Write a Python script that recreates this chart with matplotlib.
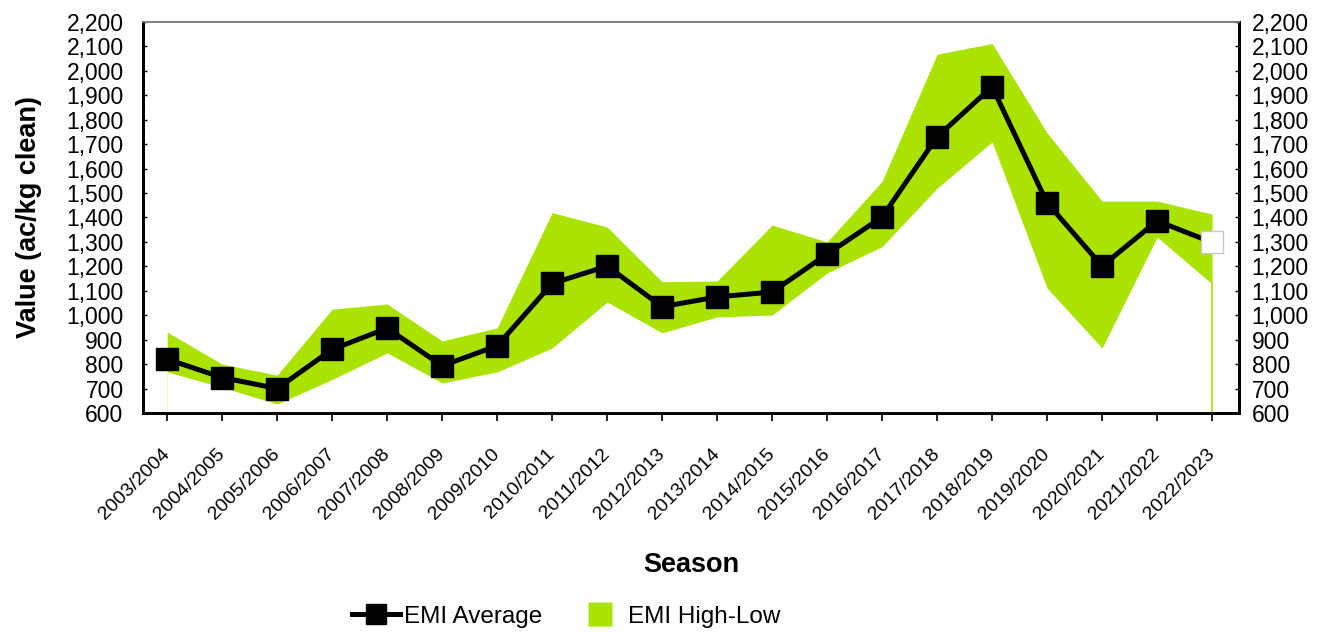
import matplotlib.pyplot as plt
from matplotlib.ticker import FuncFormatter, MultipleLocator
from matplotlib.lines import Line2D

plt.rcParams['font.family'] = ['Liberation Sans', 'DejaVu Sans']

# ---- data ----
seasons = ["2003/2004", "2004/2005", "2005/2006", "2006/2007", "2007/2008",
           "2008/2009", "2009/2010", "2010/2011", "2011/2012", "2012/2013",
           "2013/2014", "2014/2015", "2015/2016", "2016/2017", "2017/2018",
           "2018/2019", "2019/2020", "2020/2021", "2021/2022", "2022/2023"]
emi_avg = [820, 745, 700, 860, 947, 793, 875, 1130, 1201, 1035,
           1075, 1095, 1250, 1402, 1730, 1935, 1460, 1201, 1386, 1298]
emi_high = [931, 800, 755, 1025, 1046, 895, 948, 1420, 1361, 1137,
            1140, 1369, 1300, 1548, 2068, 2112, 1746, 1467, 1467, 1414]
emi_low = [768, 705, 637, 737, 846, 723, 768, 866, 1054, 928,
           993, 1001, 1173, 1281, 1520, 1709, 1111, 866, 1320, 1128]

GREEN = "#aae300"
BASE = 600
fmt = FuncFormatter(lambda v, p: f"{int(v):,}")

fig = plt.figure(figsize=(13.29, 6.39), dpi=100)
ax = fig.add_axes([0.1076, 0.3537, 0.8247, 0.6119])

x = list(range(len(seasons)))

# high-low band: green area up to high, white area up to low on top
ax.fill_between(x, BASE, emi_high, color=GREEN, lw=0, zorder=1)
ax.fill_between(x, BASE, emi_low, color="white", lw=0, zorder=2)
ax.plot([x[0], x[-1]], [BASE, BASE], color="#7f9a20", lw=1.5, zorder=3)
ax.plot([x[-1], x[-1]], [BASE, emi_low[-1]], color=GREEN, lw=1.2, zorder=3)

# average line
ax.plot(x, emi_avg, color="black", lw=3.6, zorder=4)
ax.plot(x[:-1], emi_avg[:-1], ls="none", marker="s", ms=15.5,
        mfc="black", mec="black", zorder=5)
ax.plot(x[-1:], emi_avg[-1:], ls="none", marker="s", ms=15.5,
        mfc="white", mec="#c8c8c8", mew=1, zorder=5)

ax.set_xlim(-0.44, 19.49)
ax.set_ylim(600, 2200)
ax.yaxis.set_major_locator(MultipleLocator(100))
ax.yaxis.set_major_formatter(fmt)
ax.set_xticks(x)
ax.set_xticklabels(seasons, rotation=45, ha="right", va="center",
                   rotation_mode="anchor", fontsize=14)
ax.tick_params(axis="x", direction="out", length=6, width=1.2, pad=22)
ax.tick_params(axis="y", direction="in", length=3, width=1, labelsize=16.5,
               pad=14)

# right-hand value axis
ax2 = ax.twinx()
ax2.set_ylim(600, 2200)
ax2.yaxis.set_major_locator(MultipleLocator(100))
ax2.yaxis.set_major_formatter(fmt)
ax2.tick_params(axis="y", direction="in", length=3, width=1, labelsize=16.5,
                pad=9)

for a in (ax, ax2):
    for s in ["left", "right", "bottom"]:
        a.spines[s].set_linewidth(2)
        a.spines[s].set_color("black")
    a.spines["top"].set_linewidth(1.2)
    a.spines["top"].set_color("#808080")

ax.set_ylabel("Value (ac/kg clean)", fontsize=19.5, fontweight="bold")
ax.yaxis.set_label_coords(-0.092, 0.5)
ax.set_xlabel("Season", fontsize=19.5, fontweight="bold")
ax.xaxis.set_label_coords(0.5, -0.355)

handles = [Line2D([0], [0], color="black", lw=3.6, marker="s", ms=15),
           Line2D([0], [0], ls="none", marker="s", ms=17, mfc=GREEN, mec="none")]
fig.legend(handles, ["EMI Average", "EMI High-Low"], loc="center",
           bbox_to_anchor=(0.426, 0.035), ncol=2, frameon=False, fontsize=17.5,
           handlelength=2.0, columnspacing=1.4, handletextpad=0.15,
           borderpad=0, borderaxespad=0)

fig.savefig("out.png", dpi=100)
